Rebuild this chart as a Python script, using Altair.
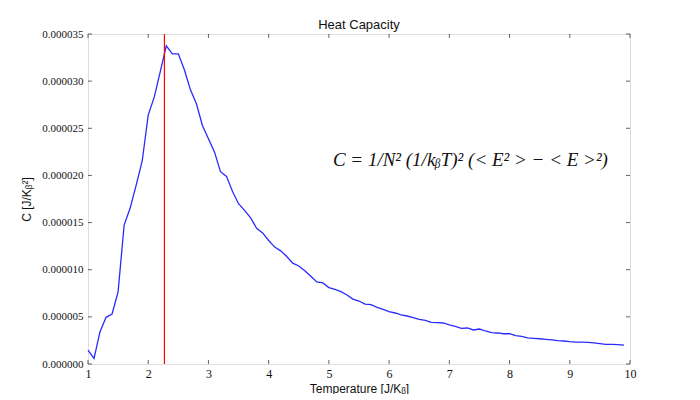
import altair as alt
import pandas as pd

# ---- data ----
temperature = [1.0, 1.1, 1.2, 1.3, 1.4, 1.5, 1.6, 1.7, 1.8, 1.9,
               2.0, 2.1, 2.2, 2.3, 2.4, 2.5, 2.6, 2.7, 2.8, 2.9,
               3.0, 3.1, 3.2, 3.3, 3.4, 3.5, 3.6, 3.7, 3.8, 3.9,
               4.0, 4.1, 4.2, 4.3, 4.4, 4.5, 4.6, 4.7, 4.8, 4.9,
               5.0, 5.1, 5.2, 5.3, 5.4, 5.5, 5.6, 5.7, 5.8, 5.9,
               6.0, 6.1, 6.2, 6.3, 6.4, 6.5, 6.6, 6.7, 6.8, 6.9,
               7.0, 7.1, 7.2, 7.3, 7.4, 7.5, 7.6, 7.7, 7.8, 7.9,
               8.0, 8.1, 8.2, 8.3, 8.4, 8.5, 8.6, 8.7, 8.8, 8.9,
               9.0, 9.1, 9.2, 9.3, 9.4, 9.5, 9.6, 9.7, 9.8, 9.9]

heat_capacity = [1.48e-6, 0.60e-6, 3.43e-6, 4.95e-6, 5.30e-6, 7.67e-6, 14.74e-6, 16.54e-6, 18.98e-6, 21.53e-6,
                 26.4e-6, 28.3e-6, 31.0e-6, 33.75e-6, 32.9e-6, 32.9e-6, 31.2e-6, 29.1e-6, 27.6e-6, 25.3e-6,
                 23.9e-6, 22.5e-6, 20.4e-6, 19.9e-6, 18.3e-6, 17.0e-6, 16.3e-6, 15.5e-6, 14.4e-6, 13.9e-6,
                 13.1e-6, 12.4e-6, 12.0e-6, 11.4e-6, 10.7e-6, 10.4e-6, 9.9e-6, 9.3e-6, 8.7e-6, 8.6e-6,
                 8.1e-6, 7.92e-6, 7.67e-6, 7.32e-6, 6.89e-6, 6.68e-6, 6.36e-6, 6.29e-6, 6.01e-6, 5.80e-6,
                 5.55e-6, 5.41e-6, 5.20e-6, 5.09e-6, 4.91e-6, 4.74e-6, 4.63e-6, 4.42e-6, 4.38e-6, 4.35e-6,
                 4.14e-6, 4.00e-6, 3.78e-6, 3.82e-6, 3.61e-6, 3.71e-6, 3.50e-6, 3.32e-6, 3.29e-6, 3.21e-6,
                 3.21e-6, 3.00e-6, 2.93e-6, 2.76e-6, 2.72e-6, 2.68e-6, 2.61e-6, 2.55e-6, 2.47e-6, 2.44e-6,
                 2.37e-6, 2.33e-6, 2.33e-6, 2.30e-6, 2.23e-6, 2.16e-6, 2.09e-6, 2.09e-6, 2.05e-6, 2.01e-6]

critical_temperature = [2.269]

x_ticks = [1, 2, 3, 4, 5, 6, 7, 8, 9, 10]
y_ticks = [0.0, 5e-6, 10e-6, 15e-6, 20e-6, 25e-6, 30e-6, 35e-6]

x_domain = [1, 10]
y_domain = [0.0, 35e-6]

equation_text = ["C = 1/N² (1/kᵦT)² (< E² > − < E >²)"]
equation_T = [7.35]
equation_C = [21.6e-6]

# ---- tables ----
curve_df = pd.DataFrame({"T": temperature, "C": heat_capacity})
tc_df = pd.DataFrame({"T": critical_temperature})
eq_df = pd.DataFrame({"T": equation_T, "C": equation_C, "label": equation_text})
xb_df = pd.DataFrame({"T": x_ticks, "C": [y_domain[0]] * len(x_ticks)})
xt_df = pd.DataFrame({"T": x_ticks, "C": [y_domain[1]] * len(x_ticks)})
yl_df = pd.DataFrame({"T": [x_domain[0]] * len(y_ticks), "C": y_ticks})
yr_df = pd.DataFrame({"T": [x_domain[1]] * len(y_ticks), "C": y_ticks})

FRAME = "#222222"
SERIF = "Liberation Serif"
SANS = "Liberation Sans"

x_scale = alt.Scale(domain=x_domain, nice=False, zero=False)
y_scale = alt.Scale(domain=y_domain, nice=False, zero=False)

x_enc = alt.X("T:Q", scale=x_scale,
              axis=alt.Axis(values=x_ticks, format="d", ticks=False, domain=False, grid=False,
                            labelFont=SERIF, labelFontSize=12, labelColor="#111", labelPadding=4,
                            labelFlush=False, labelOverlap=False,
                            title="Temperature [J/Kᵦ]", titleFont=SANS, titleFontSize=12,
                            titleFontWeight="normal", titleColor="#111", titlePadding=4))
y_enc = alt.Y("C:Q", scale=y_scale,
              axis=alt.Axis(values=y_ticks, format=".6f", ticks=False, domain=False, grid=False,
                            labelFont=SERIF, labelFontSize=11, labelColor="#111", labelPadding=5,
                            labelFlush=False, labelOverlap=False,
                            title="C [J/Kᵦ²]", titleFont=SANS, titleFontSize=12,
                            titleFontWeight="normal", titleColor="#111", titlePadding=8))

line = alt.Chart(curve_df).mark_line(color="#2a2aff", strokeWidth=1.3).encode(x=x_enc, y=y_enc)

tc_rule = alt.Chart(tc_df).mark_rule(color="#ff0000", strokeWidth=1.2).encode(x="T:Q")

equation = alt.Chart(eq_df).mark_text(font=SERIF, fontSize=19, fontStyle="italic",
                                      color="#111", align="center", baseline="middle").encode(
    x="T:Q", y="C:Q", text="label:N")

TL = 4
ticks_bottom = alt.Chart(xb_df).mark_tick(orient="vertical", size=TL, thickness=1, color=FRAME,
                                          yOffset=-TL / 2).encode(x="T:Q", y="C:Q")
ticks_top = alt.Chart(xt_df).mark_tick(orient="vertical", size=TL, thickness=1, color=FRAME,
                                       yOffset=TL / 2).encode(x="T:Q", y="C:Q")
ticks_left = alt.Chart(yl_df).mark_tick(orient="horizontal", size=TL, thickness=1, color=FRAME,
                                        xOffset=TL / 2).encode(x="T:Q", y="C:Q")
ticks_right = alt.Chart(yr_df).mark_tick(orient="horizontal", size=TL, thickness=1, color=FRAME,
                                         xOffset=-TL / 2).encode(x="T:Q", y="C:Q")

chart = alt.layer(line, tc_rule, equation, ticks_bottom, ticks_top, ticks_left, ticks_right).properties(
    width=542,
    height=330,
    title=alt.TitleParams("Heat Capacity", font=SANS, fontSize=13, fontWeight="normal",
                          color="#111", offset=-4),
    autosize=alt.AutoSizeParams(type="none"),
    padding={"left": 80, "top": 26, "right": 62, "bottom": 30},
).configure_view(stroke=FRAME, strokeWidth=1).configure(background="white")

chart.save("out.html", embed_options={"renderer": "svg", "actions": False})
